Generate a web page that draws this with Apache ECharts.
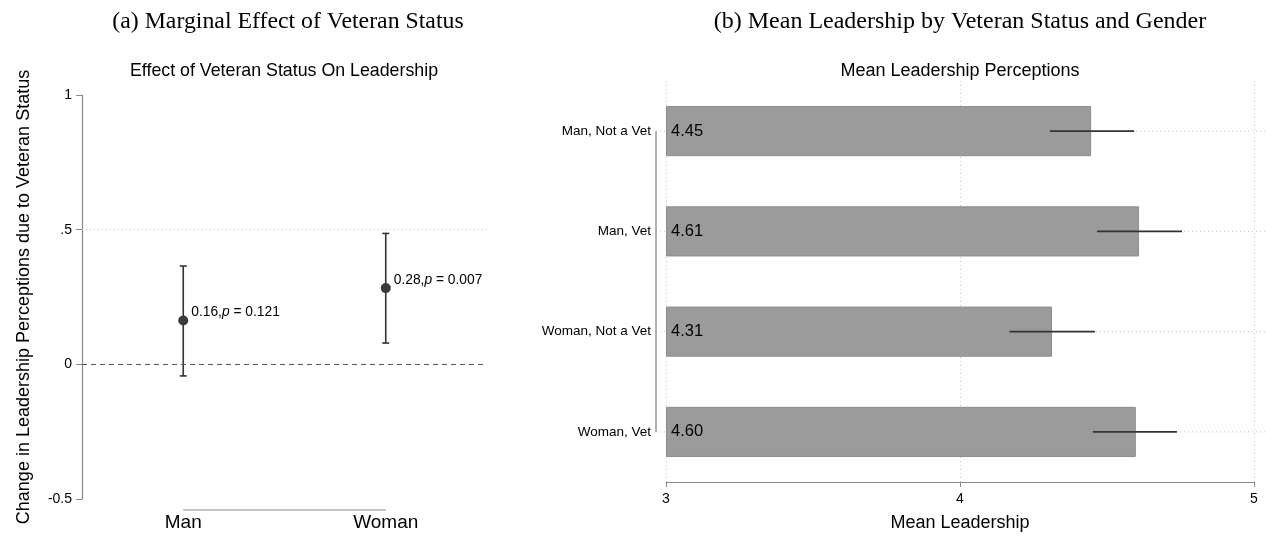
<!DOCTYPE html>
<html><head><meta charset="utf-8">
<script src="https://cdn.jsdelivr.net/npm/echarts@6/dist/echarts.min.js"></script>
<style>html,body{margin:0;padding:0;background:#fff}#c{width:1266px;height:546px}</style>
</head><body><div id="c"></div>
<script>
// ---- Panel (a) data ----
const groups = ['Man', 'Woman'];
const effects = [0.163, 0.283];
const effectLow = [-0.043, 0.079];
const effectHigh = [0.365, 0.486];
const pValues = ['0.121', '0.007'];
const effectTicks = [-0.5, 0, 0.5, 1];
const effectTickLabels = ['-0.5', '0', '.5', '1'];

// ---- Panel (b) data ----
const barCategories = ['Man, Not a Vet', 'Man, Vet', 'Woman, Not a Vet', 'Woman, Vet'];
const barMeans = [4.446, 4.609, 4.313, 4.598];
const barLow = [4.306, 4.466, 4.168, 4.452];
const barHigh = [4.592, 4.755, 4.459, 4.738];
const meanTicks = [3, 4, 5];
const meanTickLabels = ['3', '4', '5'];

const SANS = '"Liberation Sans", Arial, sans-serif';
const SERIF = '"Liberation Serif", "Times New Roman", serif';

const chart = echarts.init(document.getElementById('c'), null, {renderer: 'canvas'});

const option = {
  animation: false,
  backgroundColor: '#fff',
  textStyle: {fontFamily: SANS, color: '#000'},
  graphic: [
    {type: 'text', x: 288, y: 22, style: {text: '(a) Marginal Effect of Veteran Status', font: '23.8px ' + SERIF, fill: '#000', align: 'center', verticalAlign: 'middle', textAlign: 'center', textVerticalAlign: 'middle'}},
    {type: 'text', x: 284, y: 71, style: {text: 'Effect of Veteran Status On Leadership', font: '17.8px ' + SANS, fill: '#000', align: 'center', verticalAlign: 'middle', textAlign: 'center', textVerticalAlign: 'middle'}},
    {type: 'text', x: 960, y: 22, style: {text: '(b) Mean Leadership by Veteran Status and Gender', font: '24px ' + SERIF, fill: '#000', align: 'center', verticalAlign: 'middle', textAlign: 'center', textVerticalAlign: 'middle'}},
    {type: 'text', x: 960, y: 71, style: {text: 'Mean Leadership Perceptions', font: '18px ' + SANS, fill: '#000', align: 'center', verticalAlign: 'middle', textAlign: 'center', textVerticalAlign: 'middle'}}
  ],
  grid: [
    {left: 82, right: 1266 - 487, top: 95, bottom: 546 - 499},
    {left: 666, right: 1266 - 1254, top: 81, bottom: 546 - 482}
  ],
  xAxis: [
    {
      gridIndex: 0, type: 'category', data: groups, boundaryGap: true,
      axisLine: {show: false}, axisTick: {show: false}, splitLine: {show: false},
      axisLabel: {fontSize: 19, margin: 14, color: '#000', fontFamily: SANS}
    },
    {
      gridIndex: 1, type: 'value', min: meanTicks[0], max: meanTicks[meanTicks.length - 1], interval: 1, startValue: meanTicks[0],
      axisLine: {show: true, lineStyle: {color: '#888', width: 1.2}},
      axisTick: {show: true, inside: false, length: 5, lineStyle: {color: '#888'}},
      axisLabel: {fontSize: 14, margin: 10, color: '#000', fontFamily: SANS,
        formatter: v => { const i = meanTicks.indexOf(v); return i >= 0 ? meanTickLabels[i] : ''; }},
      splitLine: {show: true, lineStyle: {type: [1, 3], color: '#c4c4c4', width: 1}},
      name: 'Mean Leadership', nameLocation: 'middle', nameGap: 32,
      nameTextStyle: {fontSize: 18, color: '#000', fontFamily: SANS}
    }
  ],
  yAxis: [
    {
      gridIndex: 0, type: 'value', min: effectTicks[0], max: effectTicks[effectTicks.length - 1], interval: 0.5,
      axisLine: {show: true, lineStyle: {color: '#888', width: 1.2}},
      axisTick: {show: true, inside: false, length: 6, lineStyle: {color: '#888'}},
      axisLabel: {fontSize: 14, margin: 10, color: '#000', fontFamily: SANS,
        formatter: v => { const i = effectTicks.findIndex(t => Math.abs(t - v) < 1e-9); return i >= 0 ? effectTickLabels[i] : ''; }},
      splitLine: {show: false},
      name: 'Change in Leadership Perceptions due to Veteran Status', nameLocation: 'middle', nameGap: 49,
      nameTextStyle: {fontSize: 18, color: '#000', fontFamily: SANS}
    },
    {
      gridIndex: 1, type: 'category', data: barCategories, inverse: true,
      axisLine: {show: false}, axisTick: {show: false}, splitLine: {show: false},
      axisLabel: {fontSize: 13.5, margin: 15, color: '#000', fontFamily: SANS}
    }
  ],
  series: [
    // left x-axis line spanning the categories (Stata style)
    {
      type: 'custom', xAxisIndex: 0, yAxisIndex: 0, silent: true, z: 1, clip: false,
      data: [[0, effectTicks[0]]],
      renderItem: (params, api) => {
        const a = api.coord([0, effectTicks[0]]);
        const b = api.coord([groups.length - 1, effectTicks[0]]);
        return {type: 'line', shape: {x1: a[0], y1: a[1] + 11, x2: b[0], y2: b[1] + 11}, style: {stroke: '#888', lineWidth: 1.2}};
      }
    },
    // left confidence intervals
    {
      type: 'custom', xAxisIndex: 0, yAxisIndex: 0, silent: true, z: 3,
      data: groups.map((g, i) => [i, effectLow[i], effectHigh[i]]),
      renderItem: (params, api) => {
        const lo = api.coord([api.value(0), api.value(1)]);
        const hi = api.coord([api.value(0), api.value(2)]);
        const c = 3.5;
        const st = {stroke: '#333', lineWidth: 1.6};
        return {type: 'group', children: [
          {type: 'line', shape: {x1: lo[0], y1: lo[1], x2: hi[0], y2: hi[1]}, style: st},
          {type: 'line', shape: {x1: lo[0] - c, y1: lo[1], x2: lo[0] + c, y2: lo[1]}, style: st},
          {type: 'line', shape: {x1: hi[0] - c, y1: hi[1], x2: hi[0] + c, y2: hi[1]}, style: st}
        ]};
      }
    },
    // left point estimates
    {
      type: 'scatter', xAxisIndex: 0, yAxisIndex: 0, z: 4,
      symbol: 'circle', symbolSize: 10,
      itemStyle: {color: '#3a3a3a', opacity: 1},
      data: groups.map((g, i) => [i, effects[i]]),
      label: {
        show: true, position: 'right', distance: 3, offset: [0, -8],
        formatter: p => `{n|${effects[p.dataIndex].toFixed(2)},}{i|p}{n| = ${pValues[p.dataIndex]}}`,
        rich: {
          n: {fontSize: 13.8, color: '#000', fontFamily: SANS},
          i: {fontSize: 13.8, color: '#000', fontStyle: 'italic', fontFamily: SANS}
        }
      },
      markLine: {
        silent: true, symbol: 'none', label: {show: false},
        data: [
          {yAxis: effectTicks[2], lineStyle: {type: [1, 3], color: '#c4c4c4', width: 1}},
          {yAxis: effectTicks[1], lineStyle: {type: [5, 4], color: '#555', width: 1.2}}
        ]
      }
    },
    // right horizontal dotted gridlines at category centres
    {
      type: 'custom', xAxisIndex: 1, yAxisIndex: 1, silent: true, z: 1, clip: false,
      data: barCategories.map((c, i) => [meanTicks[0], i]),
      renderItem: (params, api) => {
        const p = api.coord([api.value(0), api.value(1)]);
        const cs = params.coordSys;
        return {type: 'line', shape: {x1: cs.x - 10, y1: p[1], x2: cs.x + cs.width + 14, y2: p[1]},
          style: {stroke: '#c4c4c4', lineWidth: 1, lineDash: [1, 3]}};
      }
    },
    // right y-axis line spanning category centres
    {
      type: 'custom', xAxisIndex: 1, yAxisIndex: 1, silent: true, z: 2, clip: false,
      data: [[meanTicks[0], 0]],
      renderItem: (params, api) => {
        const a = api.coord([meanTicks[0], 0]);
        const b = api.coord([meanTicks[0], barCategories.length - 1]);
        return {type: 'line', shape: {x1: a[0] - 10, y1: a[1], x2: b[0] - 10, y2: b[1]}, style: {stroke: '#999', lineWidth: 1.5}};
      }
    },
    // right bars
    {
      type: 'bar', xAxisIndex: 1, yAxisIndex: 1, z: 2,
      data: barMeans, barWidth: '50%',
      itemStyle: {color: '#9b9b9b', borderColor: '#8c8c8c', borderWidth: 1},
      label: {show: true, position: 'insideLeft', distance: 5, fontSize: 16.5, color: '#000', fontFamily: SANS,
        formatter: p => p.value.toFixed(2)}
    },
    // right error lines
    {
      type: 'custom', xAxisIndex: 1, yAxisIndex: 1, silent: true, z: 5,
      data: barCategories.map((c, i) => [barLow[i], i, barHigh[i]]),
      renderItem: (params, api) => {
        const a = api.coord([api.value(0), api.value(1)]);
        const b = api.coord([api.value(2), api.value(1)]);
        return {type: 'line', shape: {x1: a[0], y1: a[1], x2: b[0], y2: b[1]}, style: {stroke: '#333', lineWidth: 1.8}};
      }
    }
  ]
};
chart.setOption(option);
</script>
</body></html>
